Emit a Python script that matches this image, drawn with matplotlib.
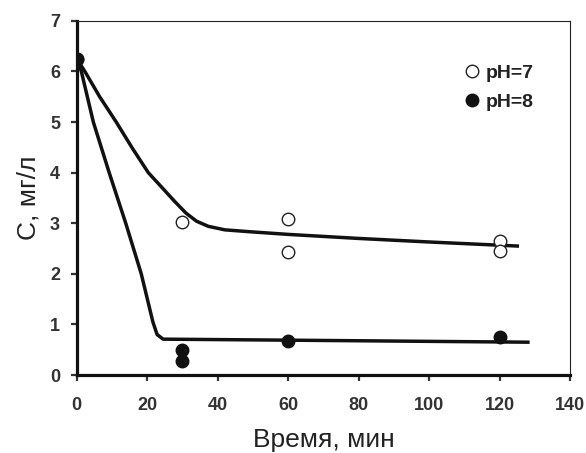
import matplotlib.pyplot as plt

plt.rcParams['font.family'] = ['Liberation Sans', 'DejaVu Sans']

# measured points
t7 = [0, 30, 60, 60, 120, 120]
c7 = [6.25, 3.02, 3.08, 2.44, 2.65, 2.45]
t8 = [0, 30, 30, 60, 120]
c8 = [6.25, 0.49, 0.27, 0.67, 0.75]

# fitted curves
fit7_t = [0, 2.3, 6.5, 11.2, 15.8, 20.3, 24, 27.8, 31, 34, 37.3, 42, 49.6, 60, 80, 100, 125]
fit7_c = [6.25, 6.0, 5.5, 5.0, 4.48, 4.0, 3.72, 3.43, 3.2, 3.04, 2.94, 2.87, 2.83, 2.78, 2.7, 2.63, 2.55]
fit8_t = [0, 1.3, 4.7, 9.2, 13.9, 18.3, 21.6, 22.8, 24.5, 60, 128]
fit8_c = [6.25, 6.0, 5.0, 4.0, 3.0, 2.0, 1.05, 0.8, 0.71, 0.69, 0.65]

fig = plt.figure(figsize=(5.86, 4.53), dpi=100)
ax = fig.add_axes([0.131, 0.172, 0.842, 0.782])

ax.plot(fit7_t, fit7_c, color='#111111', lw=2.5, zorder=2, solid_joinstyle='round')
ax.plot(fit8_t, fit8_c, color='#111111', lw=2.5, zorder=2, solid_joinstyle='round')
ax.plot(t7, c7, 'o', mfc='white', mec='#222222', mew=1, ms=9, label='pH=7', zorder=3)
ax.plot(t8, c8, 'o', mfc='#111111', mec='#111111', ms=9, label='pH=8', zorder=3)

ax.set_xlim(0, 140)
ax.set_ylim(0, 7)
ax.set_xticks(range(0, 141, 20))
ax.set_yticks(range(0, 8))

for s in ['left', 'bottom']:
    ax.spines[s].set_linewidth(2.3)
    ax.spines[s].set_color('#111111')
for s in ['top', 'right']:
    ax.spines[s].set_linewidth(0.8)
    ax.spines[s].set_color('#222222')
ax.tick_params(direction='out', length=4, width=1.6, labelsize=13, colors='#333333')
ax.tick_params(axis='x', pad=12)
ax.tick_params(axis='y', pad=8)
for lab in ax.get_xticklabels() + ax.get_yticklabels():
    lab.set_fontweight('bold')

ax.set_xlabel('Время, мин', fontsize=19, color='#222222')
ax.set_ylabel('С, мг/л', fontsize=19, color='#222222')
ax.xaxis.set_label_coords(0.5, -0.15)
ax.yaxis.set_label_coords(-0.073, 0.5)

leg = ax.legend(loc='upper right', bbox_to_anchor=(0.945, 0.905), frameon=False,
                borderpad=0, handletextpad=0.1, labelspacing=0.6, handlelength=1.2,
                prop={'weight': 'bold', 'size': 14})
for t in leg.get_texts():
    t.set_color('#222222')

fig.savefig('out.png', dpi=100)
